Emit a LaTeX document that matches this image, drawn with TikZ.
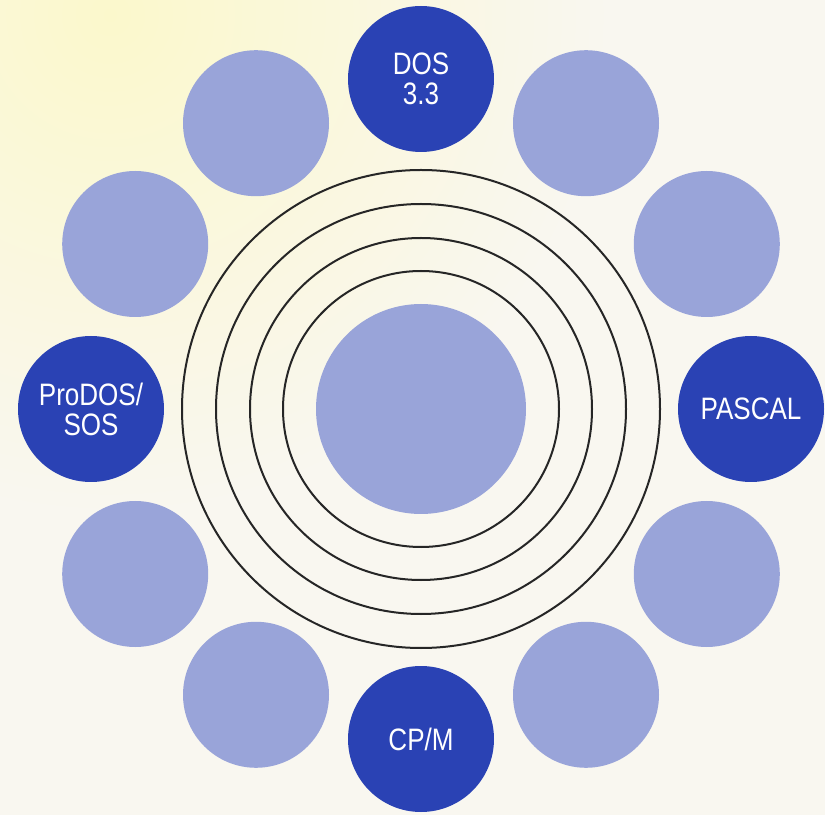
\documentclass[tikz,border=0pt]{standalone}
\usepackage{fontspec}
\setmainfont{Liberation Sans}[FakeStretch=0.84]
\definecolor{bg}{HTML}{F9F7F0}
\definecolor{bgy}{HTML}{FBF8CC}
\definecolor{darkdisc}{HTML}{2A42B4}
\definecolor{lightdisc}{HTML}{99A4D9}
\definecolor{ringcol}{HTML}{262626}
\tikzset{
  disc/.style={circle, minimum size=146pt, inner sep=0pt, draw=none},
  lightd/.style={disc, fill=lightdisc},
  darkd/.style={disc, fill=darkdisc, text=white, align=center,
    font=\fontsize{31}{30}\selectfont},
  centredisc/.style={circle, minimum size=210pt, inner sep=0pt, fill=lightdisc},
  ringline/.style={draw=ringcol, line width=2pt}
}
\begin{document}
\begin{tikzpicture}[x=1pt,y=1pt]
  \useasboundingbox (0,0) rectangle (825,815);
  \fill[bg] (0,0) rectangle (825,815);
  \begin{scope}
    \clip (0,0) rectangle (825,815);
    \shade[inner color=bgy, outer color=bg] (110,800) circle (500);
  \end{scope}
  \begin{scope}[shift={(421,406)}]
    \foreach \r in {138,171,205,239} {
      \draw[ringline] (0,0) circle (\r);
    }
    \node[centredisc] (core) at (0,0) {};
    \node[darkd] (dos) at (90:330) {DOS\\3.3};
    \node[lightd] (d60) at (60:330) {};
    \node[lightd] (d30) at (30:330) {};
    \node[darkd] (pascal) at (0:330) {PASCAL};
    \node[lightd] (dm30) at (-30:330) {};
    \node[lightd] (dm60) at (-60:330) {};
    \node[darkd] (cpm) at (-90:330) {CP/M};
    \node[lightd] (dm120) at (-120:330) {};
    \node[lightd] (dm150) at (-150:330) {};
    \node[darkd] (prodos) at (180:330) {ProDOS/\\SOS};
    \node[lightd] (d150) at (150:330) {};
    \node[lightd] (d120) at (120:330) {};
  \end{scope}
\end{tikzpicture}
\end{document}
